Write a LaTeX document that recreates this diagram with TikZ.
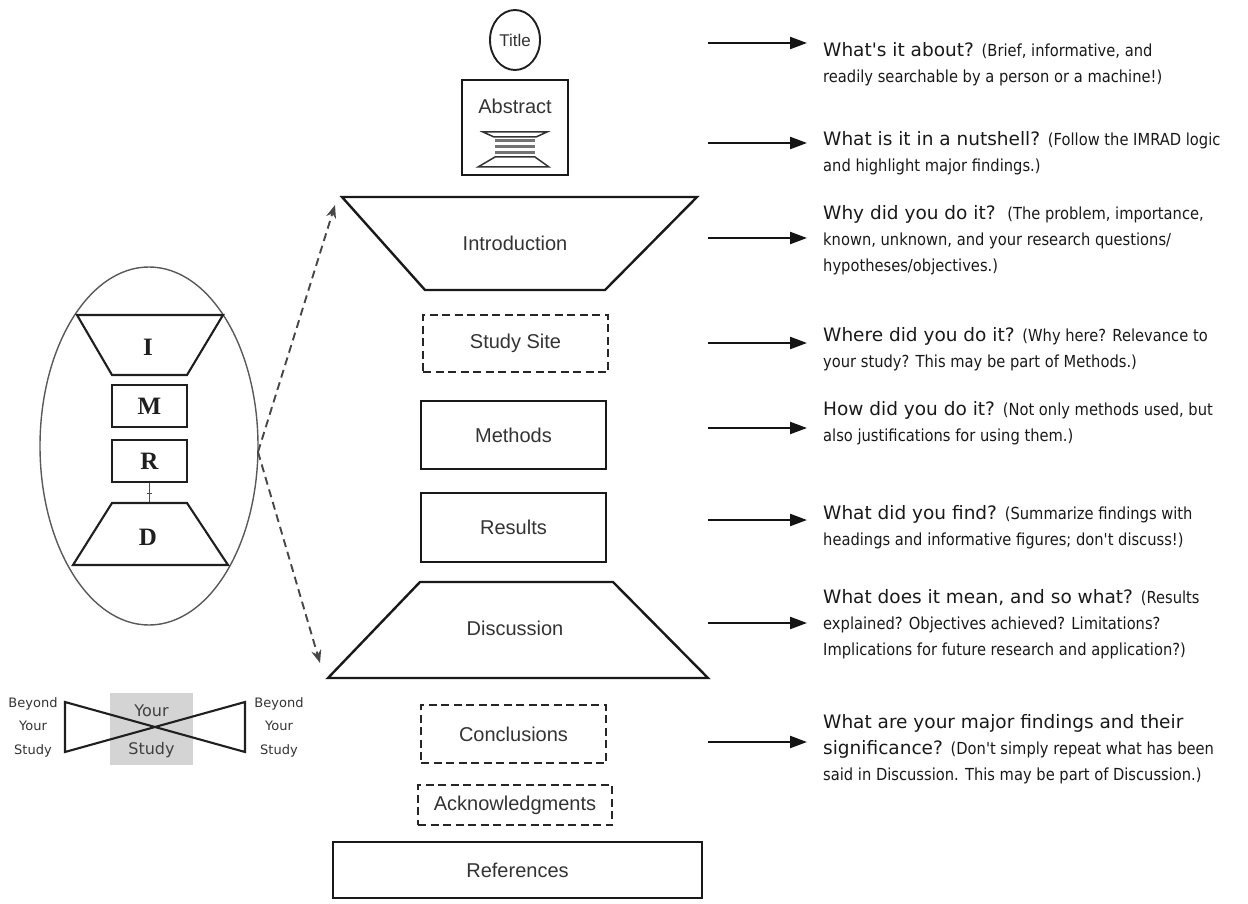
\documentclass[tikz,border=0pt]{standalone}
\usepackage{fontspec}
\setmainfont{Liberation Sans}
\newfontfamily\qfont{DejaVu Sans}
\newfontfamily\pfont[FakeStretch=0.885]{DejaVu Sans}
\newfontfamily\serifb{Liberation Serif}
\usetikzlibrary{arrows.meta,shapes.geometric}
\newcommand\ptxt[1]{{\pfont\fontsize{16.6}{26}\selectfont #1}}
\begin{document}
\begin{tikzpicture}[x=1pt,y=-1pt,
  shp/.style={draw=black!90, line width=2.4pt, line join=miter},
  thin/.style={draw=black!88, line width=2.1pt},
  dbox/.style={draw=black!85, line width=2.4pt, dash pattern=on 8pt off 4.5pt, inner sep=0pt},
  sbox/.style={draw=black!90, line width=2.4pt, inner sep=0pt},
  lbl/.style={font=\fontsize{20}{24}\selectfont, text=black!80, inner sep=0pt},
  imrad/.style={font=\serifb\bfseries\fontsize{25}{28}\selectfont, text=black!88, inner sep=0pt},
  rarr/.style={line width=2.2pt, draw=black!92, -{Triangle[length=17pt,width=12pt]}},
  darr/.style={line width=1.9pt, draw=black!72, dash pattern=on 8pt off 5pt, -{Stealth[length=13pt,width=10pt]}},
  rtext/.style={anchor=north west, align=left, inner sep=0pt, font=\qfont\fontsize{18.5}{26}\selectfont, text=black!90},
  small/.style={font=\qfont\fontsize{13}{23.5}\selectfont, text=black!80, align=center, inner sep=0pt},
  mid/.style={font=\qfont\fontsize{16}{38}\selectfont, text=black!75, align=center, inner sep=0pt}
]
\useasboundingbox (0,0) rectangle (1248,904);

% ---------- centre column ----------
\node[draw=black!88, line width=1.9pt, ellipse, minimum width=50pt, minimum height=60pt, inner sep=0pt,
      font=\fontsize{17}{20}\selectfont, text=black!80] (title) at (515,40) {Title};

\node[sbox, minimum width=106pt, minimum height=95pt] (abs) at (515,127.5) {};
\node[lbl] (abstxt) at (515,106) {Abstract};
% abstract icon (small hourglass)
\draw[black!80, line width=1.5pt] (483,132) -- (547,132) -- (536,137) -- (494,137) -- cycle;
\draw[black!55, line width=3pt] (495,141) -- (535,141) (495,147) -- (535,147) (495,153) -- (535,153);
\draw[black!80, line width=1.5pt] (495,157) -- (535,157) -- (549,167) -- (478,167) -- cycle;

\draw[shp] (342,197) -- (697,197) -- (605,290) -- (425,290) -- cycle;
\node[lbl] (intro) at (515,243) {Introduction};

\node[dbox, minimum width=185pt, minimum height=57pt, lbl] (site) at (515.5,343.5) {Study Site};
\node[sbox, minimum width=185pt, minimum height=68pt, lbl] (meth) at (513.5,435) {Methods};
\node[sbox, minimum width=185pt, minimum height=69pt, lbl] (res) at (513.5,527.5) {Results};

\draw[shp] (420,582) -- (613,582) -- (708,678) -- (328,678) -- cycle;
\node[lbl] (disc) at (515,628) {Discussion};

\node[dbox, minimum width=185pt, minimum height=58pt, lbl] (concl) at (513.5,734) {Conclusions};
\node[dbox, minimum width=194pt, minimum height=40pt, lbl] (ack) at (515,805) {Acknowledgments};
\node[sbox, minimum width=369pt, minimum height=56pt, lbl] (refs) at (517.5,870) {References};

% ---------- right column ----------
\foreach \n/\y in {1/43,2/143,3/238,4/343,5/428,6/520,7/623,8/742}{
  \coordinate (s\n) at (708,\y);
  \coordinate (e\n) at (807,\y);
  \draw[rarr] (s\n) -- (e\n);
}

\node[rtext] (t1) at (823,42) {What's it about? \ptxt{(Brief, informative, and}\\
  \ptxt{readily searchable by a person or a machine!)}};
\node[rtext] (t2) at (823,131) {What is it in a nutshell? \ptxt{(Follow the IMRAD logic}\\
  \ptxt{and highlight major findings.)}};
\node[rtext] (t3) at (823,205) {Why did you do it?\ \ \ptxt{(The problem, importance,}\\
  \ptxt{known, unknown, and your research questions/}\\
  \ptxt{hypotheses/objectives.)}};
\node[rtext] (t4) at (823,327) {Where did you do it? \ptxt{(Why here? Relevance to}\\
  \ptxt{your study? This may be part of Methods.)}};
\node[rtext] (t5) at (823,401) {How did you do it? \ptxt{(Not only methods used, but}\\
  \ptxt{also justifications for using them.)}};
\node[rtext] (t6) at (823,505) {What did you find? \ptxt{(Summarize findings with}\\
  \ptxt{headings and informative figures; don't discuss!)}};
\node[rtext] (t7) at (823,589) {What does it mean, and so what? \ptxt{(Results}\\
  \ptxt{explained? Objectives achieved? Limitations?}\\
  \ptxt{Implications for future research and application?)}};
\node[rtext] (t8) at (823,714) {What are your major findings and their\\
  significance? \ptxt{(Don't simply repeat what has been}\\
  \ptxt{said in Discussion. This may be part of Discussion.)}};

% ---------- left: IMRAD hourglass ----------
\node[draw=black!65, line width=1.4pt, ellipse, minimum width=218pt, minimum height=358pt] (oval) at (149,446) {};
\draw[thin] (77,315) -- (223,315) -- (187,375) -- (112,375) -- cycle;
\node[imrad] (iI) at (148,347) {I};
\node[thin, draw, minimum width=75pt, minimum height=42pt, inner sep=0pt, imrad] (iM) at (149.5,406) {M};
\node[thin, draw, minimum width=75pt, minimum height=42pt, inner sep=0pt, imrad] (iR) at (149.5,461) {R};
\draw[black!70, line width=1pt] (iR.south) -- (149.5,503);
\draw[black!70, line width=1pt] (147,493) -- (152,493);
\draw[thin] (112,503) -- (187,503) -- (228,565) -- (73,565) -- cycle;
\node[imrad] (iD) at (148,537) {D};

\coordinate (vx) at (258,452);
\coordinate (tipI) at (335,205);
\coordinate (tipD) at (320,663);
\draw[darr] (vx) -- (tipI);
\draw[darr] (vx) -- (tipD);

% ---------- left: your study ----------
\fill[black!17] (110,693) rectangle (193,765);
\node[mid] (ys) at (151.5,731) {Your\\Study};
\draw[thin] (65,702) -- (245,752) -- (245,702) -- (65,752) -- cycle;
\node[small] (bl) at (33,727) {Beyond\\Your\\Study};
\node[small] (br) at (279,727) {Beyond\\Your\\Study};
\end{tikzpicture}
\end{document}
